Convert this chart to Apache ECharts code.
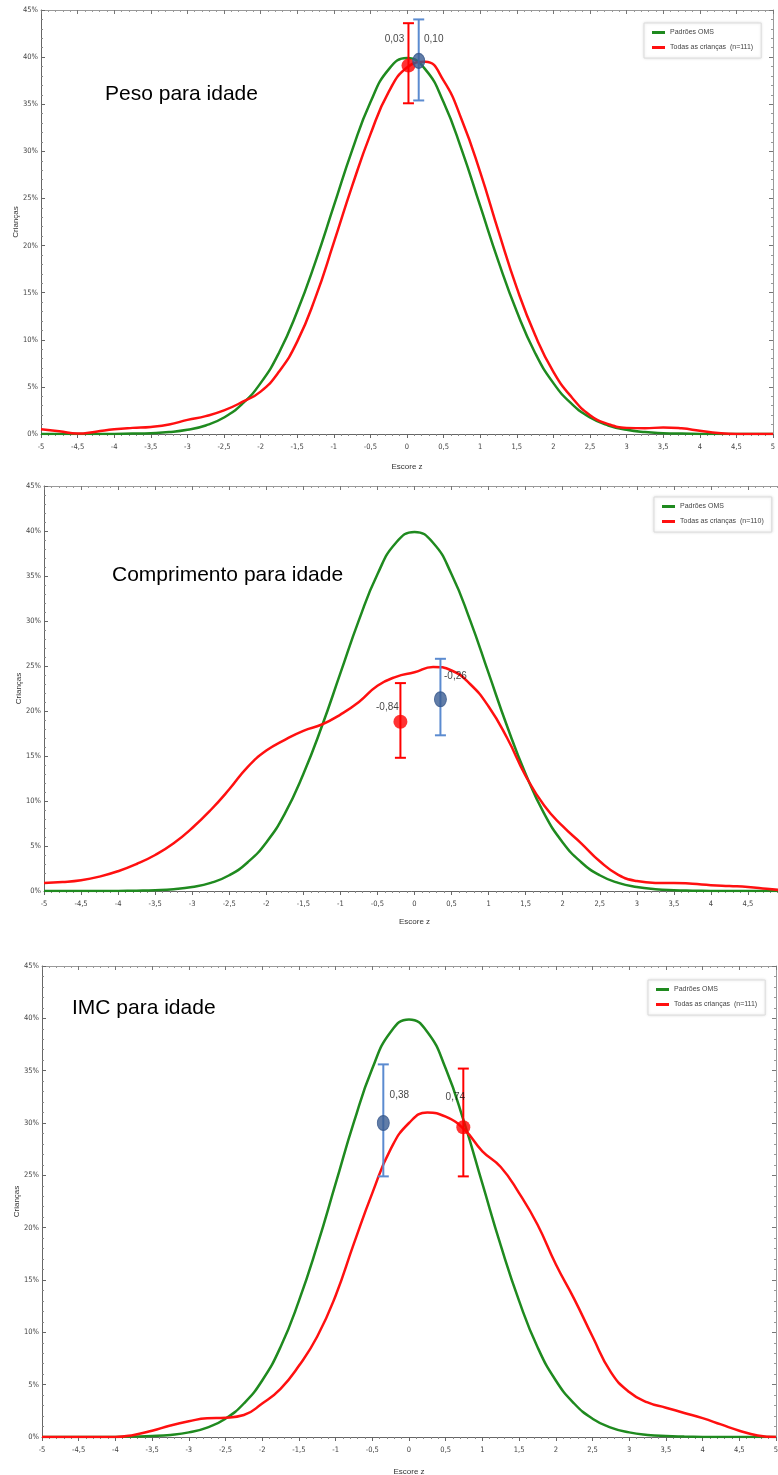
<!DOCTYPE html>
<html>
<head>
<meta charset="utf-8">
<script src="https://cdn.jsdelivr.net/npm/echarts@6/dist/echarts.min.js"></script>
<style>
html,body{margin:0;padding:0;background:#fff;}
#chart{width:778px;height:1475px;}
</style>
</head>
<body>
<div id="chart"></div>
<script>
// ---- data ----
const zValues = [-5,-4.75,-4.5,-4.25,-4,-3.75,-3.5,-3.25,-3,-2.75,-2.5,-2.25,-2,-1.75,-1.5,-1.25,-1,-0.75,-0.5,-0.25,0,0.25,0.5,0.75,1,1.25,1.5,1.75,2,2.25,2.5,2.75,3,3.25,3.5,3.75,4,4.25,4.5,4.75,5];
const whoPct  = [0,0,0,0,0.01,0.04,0.09,0.2,0.44,0.9,1.75,3.2,5.4,8.6,13.0,18.3,24.2,30.1,35.2,38.7,39.9,38.7,35.2,30.1,24.2,18.3,13.0,8.6,5.4,3.2,1.75,0.9,0.44,0.2,0.09,0.04,0.01,0,0,0,0];
const pesoPct = [0.5,0.3,0.05,0.25,0.5,0.65,0.75,1.0,1.5,1.9,2.5,3.4,4.5,6.6,9.8,14.5,20.3,26.3,31.8,36.3,38.9,39.5,37.5,33.3,27.8,21.5,15.5,10.5,6.6,3.9,2.0,1.05,0.65,0.6,0.7,0.6,0.35,0.1,0,0,0];
const compPct = [0.9,1.0,1.2,1.6,2.2,3.0,4.0,5.3,7.0,9.0,11.3,13.8,15.6,16.8,17.8,18.5,19.6,21.0,22.8,23.8,24.3,24.9,24.5,23.0,20.5,17.0,12.8,9.5,7.2,5.3,3.3,1.8,1.1,0.9,0.9,0.8,0.65,0.55,0.45,0.25,0.05];
const imcPct  = [0,0,0,0,0,0.2,0.6,1.1,1.5,1.8,1.85,2.1,3.2,4.6,6.8,9.6,13.5,18.5,23.3,27.5,30.0,31.0,30.6,29.4,27.3,25.8,23.3,20.3,16.5,13.2,9.6,6.2,4.3,3.3,2.8,2.3,1.8,1.2,0.6,0.15,0];

const panelTitles = ['Peso para idade','Comprimento para idade','IMC para idade'];
const legendNames = ['Todas as crianças  (n=111)','Todas as crianças  (n=110)','Todas as crianças  (n=111)'];
const whoName = 'Padrões OMS';
const xTicks = {min:-5, max:5, step:0.5};
const yTicks = {min:0, max:45, step:5};

// markers: [z, pct, low, high]
const redMarkers  = [[0.02,39.1,35.1,43.6],[-0.19,18.8,14.8,23.1],[0.74,29.6,24.9,35.2]];
const blueMarkers = [[0.16,39.6,35.4,44.0],[0.35,21.3,17.3,25.8],[-0.35,30.0,24.9,35.6]];
const redLabels  = ['0,03','-0,84','0,74'];
const blueLabels = ['0,10','-0,26','0,38'];

const curves = [pesoPct, compPct, imcPct];

// ---- layout ----
const grids = [
  {left:41, top:10, right:5, height:424},
  {left:44, top:486, right:-7, height:405},
  {left:42, top:966, right:2, height:471}
];
const nameGapsX = [29, 27, 31];
const legendPos = [{left:644, top:23},{left:654, top:497},{left:648, top:980}];
const titlePos = [{left:105, top:84},{left:112, top:565},{left:72, top:998}];
const redLabelOffset  = [[-14,-26],[-13,-15],[-8,-30]];
const blueLabelOffset = [[15,-22],[15,-23],[16,-28]];

const narrow = "'Liberation Sans Narrow','Arial Narrow','DejaVu Sans Condensed',sans-serif";
const sans = "'Liberation Sans',Arial,Helvetica,sans-serif";
const fmtX = v => String(v).replace('.', ',');

const xAxis = [], yAxis = [], series = [], legend = [], title = [];

grids.forEach((g, i) => {
  g.containLabel = false;
  g.outerBoundsMode = 'none';
  xAxis.push({
    type:'value', gridIndex:i, position:'bottom', min:xTicks.min, max:xTicks.max, interval:xTicks.step,
    axisLine:{show:true, onZero:false, lineStyle:{color:'#666', width:1}},
    axisTick:{show:true, inside:false, length:4, lineStyle:{color:'#666'}},
    minorTick:{show:true, splitNumber:5, length:2, lineStyle:{color:'#888'}},
    splitLine:{show:false},
    axisLabel:{fontSize:7.5, color:'#444', fontFamily:narrow, margin:9, formatter:fmtX},
    name:'Escore z', nameLocation:'middle', nameGap:nameGapsX[i],
    nameTextStyle:{fontSize:8, color:'#333', fontFamily:sans}
  });
  xAxis.push({
    type:'value', gridIndex:i, position:'top', min:xTicks.min, max:xTicks.max, interval:xTicks.step,
    axisLine:{show:true, onZero:false, lineStyle:{color:'#999', width:1}},
    axisTick:{show:true, inside:true, length:4, lineStyle:{color:'#777'}},
    minorTick:{show:true, splitNumber:5, length:2, lineStyle:{color:'#999'}},
    splitLine:{show:false}, axisLabel:{show:false}
  });
  yAxis.push({
    type:'value', gridIndex:i, position:'left', min:yTicks.min, max:yTicks.max, interval:yTicks.step,
    axisLine:{show:true, onZero:false, lineStyle:{color:'#666', width:1}},
    axisTick:{show:true, inside:true, length:4, lineStyle:{color:'#666'}},
    minorTick:{show:true, splitNumber:5, length:2, lineStyle:{color:'#888'}},
    splitLine:{show:false},
    axisLabel:{fontSize:7.5, color:'#444', fontFamily:narrow, margin:3, formatter:'{value}%'},
    name:'Crianças', nameLocation:'middle', nameGap:21, nameRotate:90, nameMoveOverlap:false,
    nameTextStyle:{fontSize:8, color:'#333', fontFamily:sans}
  });
  yAxis.push({
    type:'value', gridIndex:i, position:'right', min:yTicks.min, max:yTicks.max, interval:yTicks.step,
    axisLine:{show:true, onZero:false, lineStyle:{color:'#999', width:1}},
    axisTick:{show:true, inside:true, length:4, lineStyle:{color:'#777'}},
    minorTick:{show:true, splitNumber:5, length:2, lineStyle:{color:'#999'}},
    splitLine:{show:false}, axisLabel:{show:false}
  });
  const xi = i*2, yi = i*2;
  series.push({
    name:whoName, type:'line', xAxisIndex:xi, yAxisIndex:yi, smooth:true, showSymbol:false,
    data: zValues.map((z,k)=>[z, whoPct[k]]),
    lineStyle:{color:'#1f8a1f', width:2.5}, itemStyle:{color:'#1f8a1f'}, z:2
  });
  series.push({
    name:legendNames[i], type:'line', xAxisIndex:xi, yAxisIndex:yi, smooth:true, showSymbol:false,
    data: zValues.map((z,k)=>[z, curves[i][k]]),
    lineStyle:{color:'#ff1010', width:2.5}, itemStyle:{color:'#ff1010'}, z:3
  });
  const errBar = (color) => ({
    type:'custom', xAxisIndex:xi, yAxisIndex:yi, z:5,
    renderItem:(params, api) => {
      const x = api.value(0), lo = api.value(1), hi = api.value(2);
      const a = api.coord([x, lo]), b = api.coord([x, hi]);
      const w = 5.5;
      const st = {stroke:color, lineWidth:2};
      return {type:'group', children:[
        {type:'line', shape:{x1:a[0], y1:a[1], x2:b[0], y2:b[1]}, style:st},
        {type:'line', shape:{x1:a[0]-w, y1:a[1], x2:a[0]+w, y2:a[1]}, style:st},
        {type:'line', shape:{x1:b[0]-w, y1:b[1], x2:b[0]+w, y2:b[1]}, style:st}
      ]};
    }
  });
  const rb = errBar('#ff0000');
  rb.name = 'ic_red_' + i;
  rb.data = [[redMarkers[i][0], redMarkers[i][2], redMarkers[i][3]]];
  series.push(rb);
  series.push({
    name:'media_red_' + i, type:'scatter', xAxisIndex:xi, yAxisIndex:yi, z:6,
    symbol:'circle', symbolSize:14, itemStyle:{color:'#ff0000'},
    data:[[redMarkers[i][0], redMarkers[i][1]]],
    label:{show:true, position:'inside', offset:redLabelOffset[i], formatter:redLabels[i], color:'#111', fontSize:10, fontFamily:sans}
  });
  const bb = errBar('#5b8bd0');
  bb.name = 'ic_blue_' + i;
  bb.data = [[blueMarkers[i][0], blueMarkers[i][2], blueMarkers[i][3]]];
  series.push(bb);
  series.push({
    name:'media_blue_' + i, type:'scatter', xAxisIndex:xi, yAxisIndex:yi, z:7,
    symbol:'circle', symbolSize:[12,15], itemStyle:{color:'#3a5c92', borderColor:'#34558a', borderWidth:1},
    data:[[blueMarkers[i][0], blueMarkers[i][1]]],
    label:{show:true, position:'inside', offset:blueLabelOffset[i], formatter:blueLabels[i], color:'#111', fontSize:10, fontFamily:sans}
  });
  legend.push({
    left:legendPos[i].left, top:legendPos[i].top, orient:'vertical',
    data:[whoName, legendNames[i]], icon:'rect', itemWidth:13, itemHeight:3, itemGap:8,
    padding:[6,8,7,8], backgroundColor:'#fff', borderColor:'#dcdcdc', borderWidth:1,
    shadowBlur:3, shadowColor:'rgba(0,0,0,0.12)', selectedMode:false,
    textStyle:{fontSize:7, color:'#444', fontFamily:sans}
  });
  title.push({
    text:panelTitles[i], left:titlePos[i].left, top:titlePos[i].top, padding:0,
    textStyle:{fontSize:21, fontWeight:'normal', color:'#000', fontFamily:sans}
  });
});

const chart = echarts.init(document.getElementById('chart'), null, {renderer:'canvas'});
chart.setOption({
  animation:false,
  backgroundColor:'#fff',
  title, legend,
  grid: grids,
  xAxis, yAxis, series
});
</script>
</body>
</html>
